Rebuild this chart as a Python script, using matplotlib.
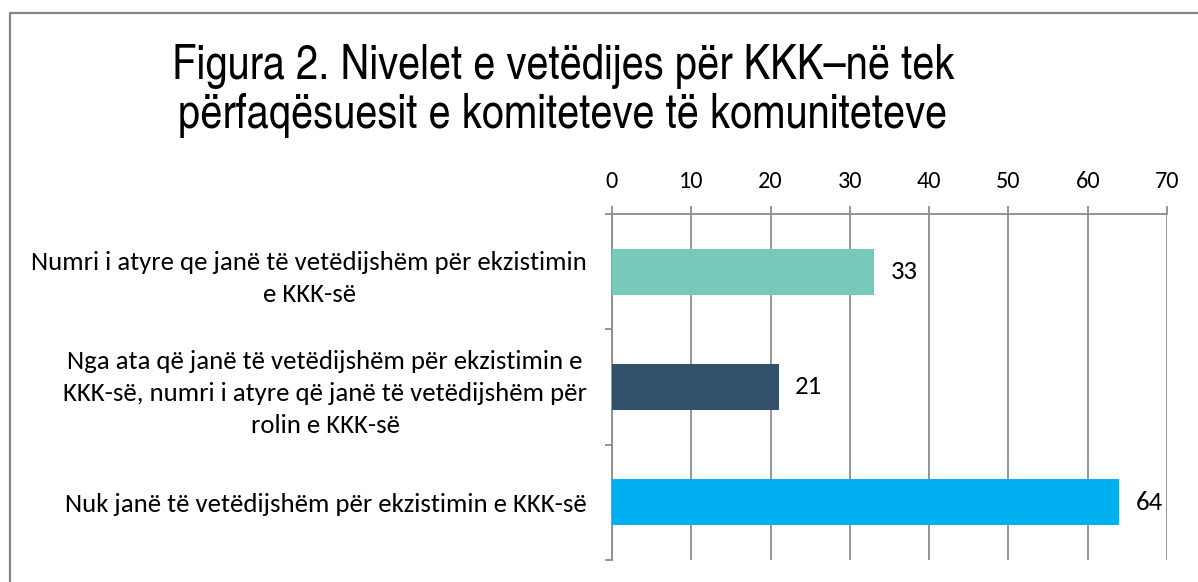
import matplotlib
matplotlib.use("Agg")
import matplotlib.pyplot as plt
from matplotlib.patches import Rectangle
from matplotlib.ticker import MultipleLocator, FixedLocator

# data
categories = [
    "Numri i atyre qe janë të vetëdijshëm për ekzistimin\ne KKK-së",
    "Nga ata që janë të vetëdijshëm për ekzistimin e\nKKK-së, numri i atyre që janë të vetëdijshëm për\nrolin e KKK-së",
    "Nuk janë të vetëdijshëm për ekzistimin e KKK-së",
]
values = [33, 21, 64]
colors = ["#77C9B9", "#34516C", "#00B0F0"]
title_lines = ["Figura 2. Nivelet e vetëdijes për KKK–në tek",
               "përfaqësuesit e komiteteve të komuniteteve"]

W, H = 1198, 582
fig = plt.figure(figsize=(W / 100, H / 100), dpi=100)
fig.patch.set_facecolor("white")

# outer frame (runs off right and bottom edge like the reference)
fig.patches.append(Rectangle((10 / W, -0.05), 1.1, 1 - 13 / H + 0.05,
                             transform=fig.transFigure, fill=False,
                             edgecolor="#868686", linewidth=1.6))

left, right, top, bottom = 612, 1167, 214, 560
ax = fig.add_axes([left / W, 1 - bottom / H, (right - left) / W, (bottom - top) / H])

label_font = ["Carlito", "DejaVu Sans"]
fs = 19.3
tick_fs = 17.5
grid_col = "#8C8C8C"

ypos = list(range(len(categories)))
ax.barh(ypos, values, height=0.4, color=colors, zorder=3)
for y, v in zip(ypos, values):
    ax.annotate(str(v), (v, y), xytext=(12, 0), textcoords="offset points",
                ha="left", va="center", fontsize=fs, family=label_font)

ax.set_xlim(0, 70)
ax.set_ylim(2.5, -0.5)
ax.xaxis.set_major_locator(MultipleLocator(10))
ax.xaxis.tick_top()
ax.grid(axis="x", color=grid_col, linewidth=1.3, zorder=0)
ax.tick_params(axis="x", which="major", direction="out", length=6, width=1.3,
               color=grid_col, labelsize=tick_fs, pad=10)

ax.set_yticks(ypos)
ax.set_yticklabels(categories)
ax.yaxis.set_minor_locator(FixedLocator([-0.5, 0.5, 1.5, 2.5]))
ax.tick_params(axis="y", which="major", length=0, labelsize=fs, pad=18)
ax.tick_params(axis="y", which="minor", direction="out", length=5, width=1.3, color=grid_col)
for lab in ax.get_yticklabels():
    lab.set_multialignment("center")
    lab.set_family(label_font)
    lab.set_linespacing(1.48)
for lab in ax.get_xticklabels():
    lab.set_family(label_font)

for s in ["right", "bottom"]:
    ax.spines[s].set_visible(False)
for s in ["top", "left"]:
    ax.spines[s].set_color(grid_col)
    ax.spines[s].set_linewidth(1.3)

# title, one text per line so the baselines sit where the reference has them
for line, base in zip(title_lines, [79, 128]):
    fig.text(563 / W, 1 - base / H, line, ha="center", va="baseline", fontsize=35,
             family=["TeX Gyre Heros Cn", "DejaVu Sans"])

fig.savefig("out.png", dpi=100)
